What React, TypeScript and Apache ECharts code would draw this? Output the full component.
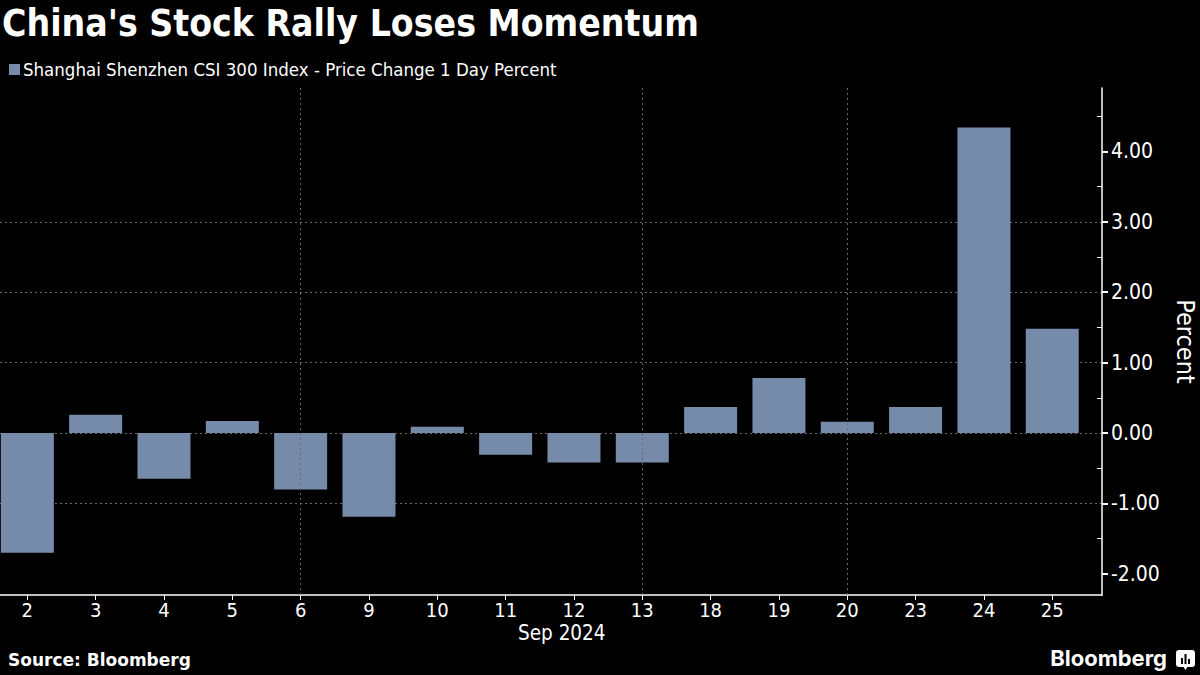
import React, { useEffect, useRef } from "react";
import * as echarts from "echarts";

const days = ["2", "3", "4", "5", "6", "9", "10", "11", "12", "13", "18", "19", "20", "23", "24", "25"];
const pctChange = [-1.7, 0.26, -0.65, 0.17, -0.8, -1.19, 0.09, -0.31, -0.42, -0.42, 0.37, 0.78, 0.16, 0.37, 4.34, 1.48];
const weekEnds = ["6", "13", "20"];
const yMajorTicks = [-2, -1, 0, 1, 2, 3, 4];
const yMinorTicks = [-1.5, -0.5, 0.5, 1.5, 2.5, 3.5, 4.5];
const yMin = -2.3;
const yMax = 4.9;
// category index range shown along x (slot centres at integers)
const xMin = -0.4;
const xMax = 15.728;

const seriesName = "Shanghai Shenzhen CSI 300 Index - Price Change 1 Day Percent";
const titleText = "China's Stock Rally Loses Momentum";
const monthLabel = "Sep 2024";
const sourceText = "Source: Bloomberg";

const BAR = "#768BAA";
const GRIDC = "#6a6a6a";
const COND = "'DejaVu Sans Condensed', 'DejaVu Sans', sans-serif";

export default function App() {
  const ref = useRef<HTMLDivElement>(null);
  useEffect(() => {
    document.body.style.margin = "0";
    document.body.style.background = "#000";
    const chart = echarts.init(ref.current!, null, { renderer: "svg" });
    const idx = days.map((_, i) => i);
    const gridBox = { left: 0, right: 98, top: 88, bottom: 80, containLabel: false, outerBoundsMode: "none" };
    chart.setOption({
      animation: false,
      backgroundColor: "#000",
      title: {
        text: titleText,
        left: 2,
        top: 5,
        padding: 0,
        textStyle: { color: "#fff", fontSize: 37, fontWeight: "bold", fontFamily: COND },
      },
      legend: {
        left: 9,
        top: 60,
        icon: "rect",
        itemWidth: 11,
        itemHeight: 11,
        itemGap: 4,
        padding: 0,
        textStyle: { color: "#fff", fontSize: 18.5, fontFamily: COND, padding: [0, 0, 0, -2] },
        data: [seriesName],
      },
      grid: [gridBox, { ...gridBox }],
      xAxis: [
        {
          type: "value",
          gridIndex: 0,
          min: xMin,
          max: xMax,
          axisLine: { show: true, onZero: false, lineStyle: { color: "#fff", width: 1.5 } },
          axisTick: { show: true, customValues: idx, length: 5, lineStyle: { color: "#fff", width: 1 } },
          axisLabel: {
            customValues: idx,
            color: "#fff",
            fontSize: 20,
            fontFamily: COND,
            margin: 5,
            formatter: (v: number) => days[Math.round(v)] ?? "",
          },
          splitLine: { show: false },
        },
        {
          type: "value",
          gridIndex: 1,
          min: xMin,
          max: xMax,
          show: false,
        },
      ],
      yAxis: [
        {
          type: "value",
          gridIndex: 0,
          position: "right",
          min: yMin,
          max: yMax,
          splitNumber: 7,
          name: "Percent",
          nameLocation: "middle",
          nameRotate: -90,
          nameGap: 71,
          nameTextStyle: { color: "#fff", fontSize: 25, fontFamily: COND },
          axisLine: { show: true, onZero: false, lineStyle: { color: "#fff", width: 1.5 } },
          axisTick: { show: true, customValues: yMajorTicks, length: 6, lineStyle: { color: "#fff", width: 2 } },
          axisLabel: {
            customValues: yMajorTicks,
            color: "#fff",
            fontSize: 21,
            fontFamily: COND,
            margin: 9,
            formatter: (v: number) => v.toFixed(2),
          },
          splitLine: {
            show: true,
            showMinLine: false,
            showMaxLine: false,
            lineStyle: { color: GRIDC, type: [2, 3], width: 1 },
          },
        },
        {
          type: "value",
          gridIndex: 1,
          position: "right",
          min: yMin,
          max: yMax,
          axisLine: { show: false, onZero: false },
          axisTick: { show: true, inside: true, customValues: yMinorTicks, length: 5, lineStyle: { color: "#fff", width: 1 } },
          axisLabel: { show: false },
          splitLine: { show: false },
        },
      ],
      series: [
        {
          name: seriesName,
          type: "bar",
          xAxisIndex: 0,
          yAxisIndex: 0,
          data: pctChange.map((v, i) => [i, v]),
          barWidth: 53,
          itemStyle: { color: BAR },
          markLine: {
            silent: true,
            symbol: "none",
            label: { show: false },
            lineStyle: { color: GRIDC, type: [2, 3], width: 1 },
            data: weekEnds.map((d) => ({ xAxis: days.indexOf(d) })),
          },
          z: 3,
        },
      ],
      graphic: [
        {
          type: "text",
          left: 518,
          top: 622,
          style: { text: monthLabel, fill: "#fff", fontSize: 20.5, fontFamily: COND },
        },
        {
          type: "text",
          left: 8,
          top: 651,
          style: { text: sourceText, fill: "#fff", fontSize: 17, fontWeight: "bold", fontFamily: "'DejaVu Sans', sans-serif" },
        },
        {
          type: "text",
          right: 33,
          top: 647,
          style: { text: "Bloomberg", fill: "#fff", fontSize: 22, fontWeight: "bold", fontFamily: "Inter, 'Noto Sans', sans-serif" },
        },
        {
          type: "group",
          left: 1176,
          top: 650,
          children: [
            { type: "rect", shape: { x: 0, y: 0, width: 19, height: 17, r: 3 }, style: { fill: "#fff" } },
            { type: "polygon", shape: { points: [[7, 16], [12, 16], [9.5, 20]] }, style: { fill: "#fff" } },
            { type: "rect", shape: { x: 5, y: 8, width: 2, height: 6 }, style: { fill: "#000" } },
            { type: "rect", shape: { x: 8.5, y: 4, width: 2, height: 10 }, style: { fill: "#000" } },
            { type: "rect", shape: { x: 12, y: 9, width: 2, height: 5 }, style: { fill: "#000" } },
          ],
        },
      ],
    });
    return () => chart.dispose();
  }, []);
  return (
    <div
      ref={ref}
      style={{ position: "fixed", left: 0, top: 0, width: 1200, height: 675, background: "#000" }}
    />
  );
}
